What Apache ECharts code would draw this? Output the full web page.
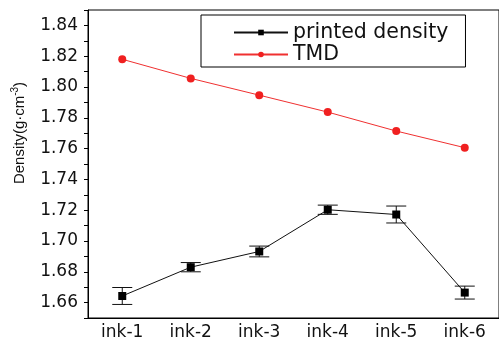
<!DOCTYPE html>
<html><head><meta charset="utf-8">
<script src="https://cdn.jsdelivr.net/npm/echarts@6/dist/echarts.min.js"></script>
<style>html,body{margin:0;padding:0;background:#fff}#c{width:499px;height:341px}</style>
</head><body><div id="c"></div>
<script>
const categories = ['ink-1', 'ink-2', 'ink-3', 'ink-4', 'ink-5', 'ink-6'];
const printedDensity = [1.6643, 1.6830, 1.6932, 1.7203, 1.7172, 1.6665];
const printedError = [0.0055, 0.0030, 0.0035, 0.0030, 0.0055, 0.0042];
const tmd = [1.8180, 1.8056, 1.7947, 1.7837, 1.7714, 1.7606];
const yMin = 1.65, yMax = 1.85, yStep = 0.01;

const errData = categories.map((c, i) => [i, printedDensity[i] - printedError[i], printedDensity[i] + printedError[i]]);
const FONT = 'DejaVu Sans';

const chart = echarts.init(document.getElementById('c'), null, {renderer: 'canvas'});
chart.setOption({
  animation: false,
  backgroundColor: '#fff',
  grid: {left: 88, right: -3, top: 10, bottom: 19, show: true, borderColor: '#000', borderWidth: 1},
  legend: {
    orient: 'vertical', left: 201, top: 15,
    data: ['printed density', 'TMD'],
    backgroundColor: '#fff', borderColor: '#000', borderWidth: 1,
    padding: [7, 17, 2, 32], itemGap: 1, itemWidth: 54, itemHeight: 7,
    textStyle: {fontFamily: FONT, fontSize: 20.5, color: '#111', lineHeight: 20}
  },
  xAxis: [{
    type: 'category', data: categories, boundaryGap: true,
    axisLine: {lineStyle: {color: '#000', width: 1}},
    axisTick: {alignWithLabel: true, length: 4, lineStyle: {color: '#000'}},
    axisLabel: {fontFamily: FONT, fontSize: 17, color: '#111', margin: 6},
    splitLine: {show: false}
  }, {
    type: 'category', data: categories, boundaryGap: true, position: 'bottom',
    axisLine: {show: false},
    axisTick: {alignWithLabel: false, length: 4, lineStyle: {color: '#000'}},
    axisLabel: {show: false}, splitLine: {show: false}
  }],
  yAxis: {
    type: 'value', min: yMin, max: yMax, interval: yStep,
    axisLine: {show: true, lineStyle: {color: '#000', width: 1}},
    axisTick: {show: true, length: 4, lineStyle: {color: '#000'}},
    axisLabel: {fontFamily: FONT, fontSize: 17, color: '#111', margin: 10,
      formatter: v => (Math.round(v * 100) % 2 === 0 && v > yMin + 0.001 && v < yMax - 0.001) ? v.toFixed(2) : ''},
    splitLine: {show: false}
  },
  graphic: [{
    type: 'text', x: 20, y: 133, rotation: Math.PI / 2,
    style: {
      text: '{a|Density(g·cm}{s|-3}{a|)}',
      rich: {
        a: {fontFamily: 'Liberation Sans', fontSize: 15, fill: '#111'},
        s: {fontFamily: 'Liberation Sans', fontSize: 10, fill: '#111', padding: [0, 0, 9, 0]}
      },
      align: 'center', verticalAlign: 'middle'
    }
  }],
  series: [{
    name: 'printed density', type: 'line', data: printedDensity,
    symbol: 'rect', symbolSize: 8, z: 3,
    lineStyle: {color: '#111', width: 1}, itemStyle: {color: '#000'}
  }, {
    name: 'TMD', type: 'line', data: tmd,
    symbol: 'circle', symbolSize: 8, z: 3,
    lineStyle: {color: '#f03030', width: 1}, itemStyle: {color: '#f02020'}
  }, {
    type: 'custom', data: errData, z: 2,
    renderItem: (params, api) => {
      const x = api.value(0);
      const lo = api.coord([x, api.value(1)]);
      const hi = api.coord([x, api.value(2)]);
      const w = 10;
      const st = {stroke: '#111', lineWidth: 1};
      return {type: 'group', children: [
        {type: 'line', shape: {x1: lo[0], y1: lo[1], x2: hi[0], y2: hi[1]}, style: st},
        {type: 'line', shape: {x1: lo[0] - w, y1: lo[1], x2: lo[0] + w, y2: lo[1]}, style: st},
        {type: 'line', shape: {x1: hi[0] - w, y1: hi[1], x2: hi[0] + w, y2: hi[1]}, style: st}
      ]};
    }
  }]
});
</script></body></html>
